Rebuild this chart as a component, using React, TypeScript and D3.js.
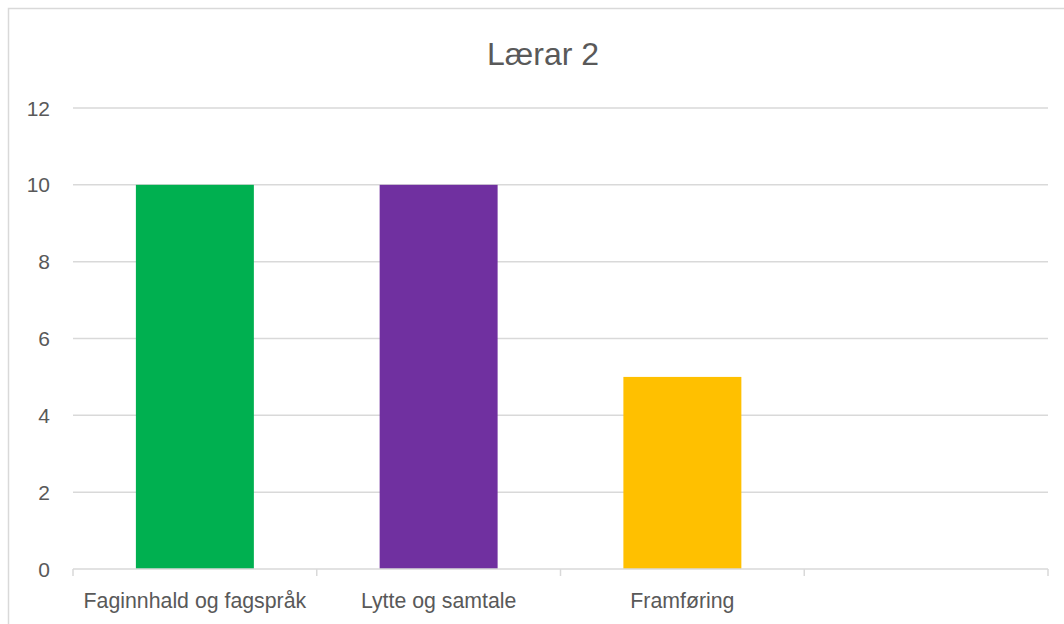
import React, { useEffect, useRef } from "react";
import * as d3 from "d3";

const title = "Lærar 2";
const categories = ["Faginnhald og fagspråk", "Lytte og samtale", "Framføring", ""];
const values = [10, 10, 5, null];
const colors = ["#00B050", "#7030A0", "#FFC000", "#FFFFFF"];
const yTicks = [0, 2, 4, 6, 8, 10, 12];

const W = 1064;
const H = 624;
const FONT = "'Liberation Sans', Arial, sans-serif";

const App = () => {
  const ref = useRef<SVGSVGElement>(null);

  useEffect(() => {
    const svg = d3.select(ref.current);
    svg.selectAll("*").remove();

    const plot = { left: 73, right: 1048, top: 108, bottom: 569 };

    // chart frame (right and bottom edges fall outside the picture)
    svg
      .append("rect")
      .attr("x", 8.5)
      .attr("y", 8.5)
      .attr("width", W + 10)
      .attr("height", H + 10)
      .attr("fill", "#fff")
      .attr("stroke", "#D9D9D9")
      .attr("stroke-width", 1.5);

    svg
      .append("text")
      .attr("x", 543)
      .attr("y", 65)
      .attr("text-anchor", "middle")
      .attr("font-family", FONT)
      .attr("font-size", 32)
      .attr("fill", "#595959")
      .text(title);

    const x = d3
      .scaleBand()
      .domain(categories.map((c, i) => String(i)))
      .range([plot.left, plot.right])
      .padding(0);

    const y = d3.scaleLinear().domain([0, 12]).range([plot.bottom, plot.top]);

    // gridlines
    svg
      .append("g")
      .selectAll("line")
      .data(yTicks.filter((t) => t > 0))
      .join("line")
      .attr("x1", plot.left)
      .attr("x2", plot.right)
      .attr("y1", (d) => y(d))
      .attr("y2", (d) => y(d))
      .attr("stroke", "#D9D9D9")
      .attr("stroke-width", 1.5);

    // y tick labels
    svg
      .append("g")
      .selectAll("text")
      .data(yTicks)
      .join("text")
      .attr("x", 50)
      .attr("y", (d) => y(d))
      .attr("dy", "0.36em")
      .attr("text-anchor", "end")
      .attr("font-family", FONT)
      .attr("font-size", 21)
      .attr("fill", "#595959")
      .text((d) => d);

    // bars
    const barW = x.bandwidth() * 0.484;
    svg
      .append("g")
      .selectAll("rect")
      .data(values.map((v, i) => ({ v, i })).filter((d) => d.v != null))
      .join("rect")
      .attr("x", (d) => x(String(d.i))! + (x.bandwidth() - barW) / 2)
      .attr("y", (d) => y(d.v as number))
      .attr("width", barW)
      .attr("height", (d) => y(0) - y(d.v as number))
      .attr("fill", (d) => colors[d.i]);

    // x axis line and ticks
    const ax = svg.append("g").attr("stroke", "#D9D9D9").attr("stroke-width", 1.5);
    ax.append("line")
      .attr("x1", plot.left)
      .attr("x2", plot.right)
      .attr("y1", y(0))
      .attr("y2", y(0));
    const bounds = categories.map((c, i) => x(String(i))!).concat([plot.right]);
    ax.selectAll("line.tick")
      .data(bounds)
      .join("line")
      .attr("class", "tick")
      .attr("x1", (d) => d)
      .attr("x2", (d) => d)
      .attr("y1", y(0))
      .attr("y2", y(0) + 7);

    // category labels
    svg
      .append("g")
      .selectAll("text")
      .data(categories)
      .join("text")
      .attr("x", (d, i) => x(String(i))! + x.bandwidth() / 2)
      .attr("y", 608)
      .attr("text-anchor", "middle")
      .attr("font-family", FONT)
      .attr("font-size", 21.3)
      .attr("fill", "#595959")
      .text((d) => d);
  }, []);

  return (
    <svg
      ref={ref}
      width={W}
      height={H}
      style={{ position: "absolute", left: 0, top: 0, display: "block" }}
    />
  );
};

export default App;
